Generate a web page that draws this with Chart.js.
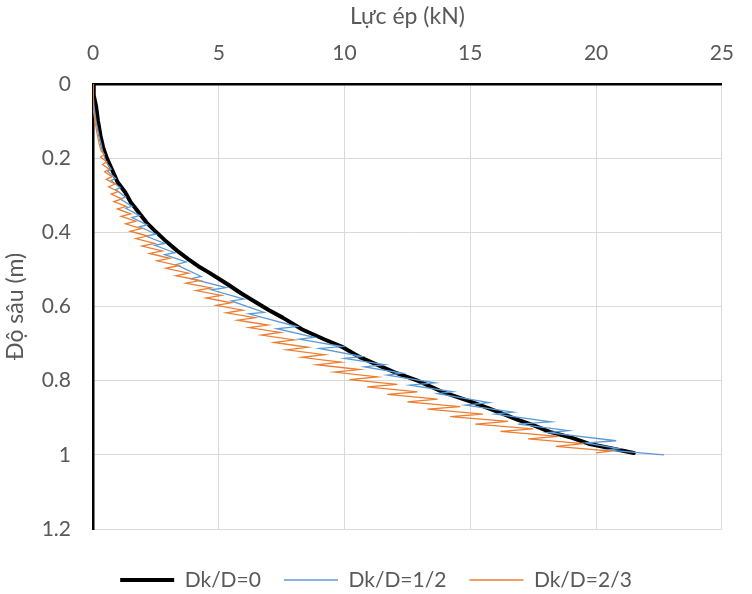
<!DOCTYPE html>
<html><head><meta charset="utf-8">
<script src="https://cdn.jsdelivr.net/npm/chart.js@4.4.1/dist/chart.umd.min.js"></script>
<style>html,body{margin:0;padding:0;background:#fff;}</style>
</head><body>
<canvas id="c" width="752" height="594"></canvas>
<script>
const xTitle = 'Lực ép (kN)';
const yTitle = 'Độ sâu (m)';
const seriesNames = ['Dk/D=0', 'Dk/D=1/2', 'Dk/D=2/3'];
const xTickLabels = ['0', '5', '10', '15', '20', '25'];
const yTickLabels = ['0', '0.2', '0.4', '0.6', '0.8', '1', '1.2'];

const blackDepth = [0, 0.03, 0.059, 0.1, 0.14, 0.17, 0.2, 0.23, 0.265, 0.292, 0.319, 0.338, 0.373, 0.392, 0.427, 0.45, 0.473, 0.492, 0.508, 0.54, 0.565, 0.589, 0.61, 0.63, 0.662, 0.689, 0.708, 0.738, 0.76, 0.776, 0.8, 0.83, 0.857, 0.884, 0.905, 0.92, 0.938, 0.954, 0.97, 0.981, 0.995];
const blackForce = [0, 0.03, 0.12, 0.2, 0.3, 0.4, 0.55, 0.75, 0.98, 1.28, 1.5, 1.72, 2.12, 2.4, 2.95, 3.35, 3.8, 4.2, 4.6, 5.35, 5.9, 6.49, 7.0, 7.54, 8.32, 9.21, 9.88, 10.65, 11.4, 11.94, 12.9, 13.88, 15.05, 16.1, 16.87, 17.5, 18.16, 19.05, 19.7, 20.49, 21.5];

const blueDepth = [0, 0.03, 0.06, 0.1, 0.14, 0.18, 0.21, 0.23, 0.235, 0.255, 0.26, 0.28, 0.285, 0.305, 0.31, 0.33, 0.335, 0.355, 0.36, 0.38, 0.385, 0.405, 0.41, 0.43, 0.435, 0.455, 0.46, 0.48, 0.487, 0.519, 0.525, 0.549, 0.555, 0.58, 0.585, 0.616, 0.62, 0.654, 0.66, 0.683, 0.688, 0.708, 0.713, 0.735, 0.74, 0.757, 0.763, 0.78, 0.785, 0.806, 0.812, 0.83, 0.835, 0.859, 0.866, 0.885, 0.89, 0.911, 0.917, 0.935, 0.94, 0.962, 0.968, 0.983, 0.987, 1.0];
const blueForce = [0, 0.01, 0.04, 0.12, 0.24, 0.38, 0.52, 0.72, 0.58, 0.9, 0.72, 1.08, 0.9, 1.3, 1.08, 1.55, 1.3, 1.85, 1.55, 2.15, 1.85, 2.5, 2.1, 2.85, 2.45, 3.25, 2.85, 3.7, 3.3, 4.3, 3.9, 5.3, 4.7, 6.0, 5.5, 6.8, 6.2, 8.1, 7.3, 8.8, 8.2, 9.9, 9.0, 10.7, 10.0, 11.6, 10.8, 12.3, 11.7, 13.6, 12.6, 14.3, 13.7, 15.75, 14.8, 16.7, 16.0, 18.2, 16.9, 18.9, 18.1, 20.8, 19.6, 20.9, 20.4, 22.7];

const orangeDepth = [0, 0.03, 0.07, 0.1, 0.13, 0.16, 0.18, 0.19, 0.197, 0.21, 0.217, 0.23, 0.237, 0.25, 0.257, 0.27, 0.277, 0.29, 0.297, 0.31, 0.317, 0.33, 0.337, 0.35, 0.357, 0.37, 0.377, 0.39, 0.397, 0.41, 0.417, 0.43, 0.437, 0.45, 0.457, 0.47, 0.477, 0.49, 0.497, 0.51, 0.517, 0.53, 0.537, 0.55, 0.557, 0.57, 0.577, 0.59, 0.597, 0.61, 0.617, 0.63, 0.637, 0.65, 0.657, 0.67, 0.677, 0.69, 0.697, 0.71, 0.717, 0.73, 0.737, 0.75, 0.757, 0.77, 0.777, 0.79, 0.797, 0.81, 0.817, 0.83, 0.837, 0.85, 0.857, 0.87, 0.877, 0.89, 0.897, 0.91, 0.917, 0.93, 0.937, 0.95, 0.957, 0.97, 0.977, 0.99, 0.995];
const orangeForce = [0, 0.0, 0.02, 0.08, 0.15, 0.24, 0.32, 0.45, 0.3, 0.55, 0.38, 0.65, 0.46, 0.76, 0.53, 0.88, 0.62, 1.0, 0.72, 1.15, 0.83, 1.32, 0.97, 1.5, 1.12, 1.7, 1.3, 1.92, 1.48, 2.17, 1.7, 2.45, 1.95, 2.75, 2.25, 3.05, 2.55, 3.4, 2.9, 3.8, 3.3, 4.25, 3.7, 4.7, 4.1, 5.1, 4.5, 5.5, 4.9, 5.95, 5.3, 6.45, 5.75, 6.95, 6.2, 7.45, 6.7, 8.0, 7.2, 8.55, 7.7, 9.2, 8.3, 9.85, 8.9, 10.6, 9.6, 11.3, 10.2, 12.1, 10.9, 12.9, 11.7, 13.7, 12.5, 14.6, 13.3, 15.5, 14.2, 16.5, 15.2, 17.5, 16.2, 18.5, 17.3, 19.5, 18.4, 20.6, 20.0];

function pts(f, d) { return f.map((v, i) => ({ x: v, y: d[i] })); }

const FONT = 'Lato, "Open Sans", sans-serif';
const TXT = '#595959';
const LEG_PAD = 23;

new Chart(document.getElementById('c'), {
  type: 'scatter',
  data: {
    datasets: [
      { label: seriesNames[0], data: pts(blackForce, blackDepth), showLine: true, borderColor: '#000000', backgroundColor: '#000000', borderWidth: 4, pointRadius: 0, borderJoinStyle: 'round', borderCapStyle: 'round', order: 3 },
      { label: seriesNames[1], data: pts(blueForce, blueDepth), showLine: true, borderColor: '#5b9bd5', backgroundColor: '#5b9bd5', borderWidth: 1.3, pointRadius: 0, order: 2 },
      { label: seriesNames[2], data: pts(orangeForce, orangeDepth), showLine: true, borderColor: '#ed7d31', backgroundColor: '#ed7d31', borderWidth: 1.3, pointRadius: 0, order: 1 }
    ]
  },
  options: {
    responsive: false,
    animation: false,
    devicePixelRatio: 1,
    layout: { padding: { left: 0, right: 16, top: 0, bottom: 11 } },
    plugins: {
      legend: {
        position: 'bottom',
        labels: { usePointStyle: true, pointStyle: 'line', pointStyleWidth: 54, padding: LEG_PAD, color: TXT, font: { family: FONT, size: 21 },
          sort: (a, b) => a.datasetIndex - b.datasetIndex }
      },
      tooltip: { enabled: false }
    },
    scales: {
      x: {
        type: 'linear', position: 'top', min: 0, max: 25,
        ticks: { stepSize: 5, padding: 18, color: TXT, font: { family: FONT, size: 21 }, callback: (v) => xTickLabels[Math.round(v / 5)] },
        grid: { color: '#d9d9d9', lineWidth: 1, drawTicks: false },
        border: { color: '#000000', width: 2.5 },
        title: { display: true, text: xTitle, color: TXT, font: { family: FONT, size: 23 }, padding: { top: 3, bottom: 0 } },
        afterFit(s) { s.height = 84; }
      },
      y: {
        type: 'linear', position: 'left', min: 0, max: 1.2, reverse: true,
        ticks: { stepSize: 0.2, padding: 22, color: TXT, font: { family: FONT, size: 21 }, callback: (v) => yTickLabels[Math.round(v / 0.2)] },
        grid: { color: '#d9d9d9', lineWidth: 1, drawTicks: false },
        border: { color: '#000000', width: 2.5 },
        title: { display: true, text: yTitle, color: TXT, font: { family: FONT, size: 23 }, padding: { top: 2, bottom: 0 } },
        afterFit(s) { s.width = 93; }
      }
    }
  },
  plugins: [{
    id: 'legendPlace',
    afterLayout(c) {
      const lg = c.legend; if (!lg) return;
      const h = lg.bottom - lg.top;
      lg.top = 580 - LEG_PAD - 10.5; lg.bottom = lg.top + h;
      lg.left = 0; lg.right = 752;
    }
  }]
});
</script>
</body></html>
